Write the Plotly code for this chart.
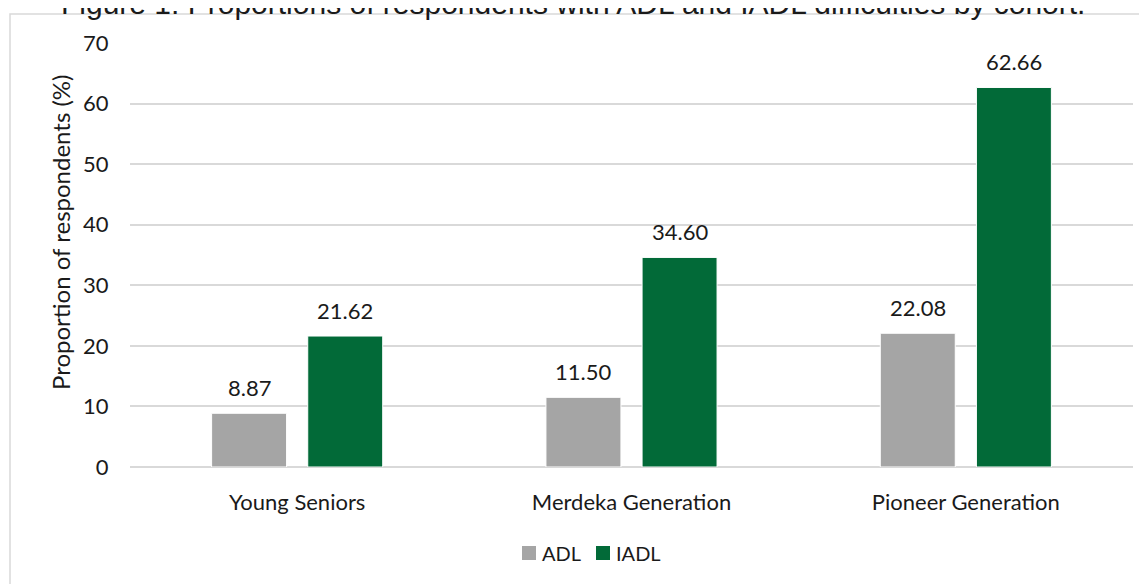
import plotly.graph_objects as go

categories = ["Young Seniors", "Merdeka Generation", "Pioneer Generation"]
adl = [8.87, 11.50, 22.08]
iadl = [21.62, 34.60, 62.66]
series_names = ["ADL", "IADL"]
title_text = "Figure 1: Proportions of respondents with ADL and IADL difficulties by cohort."
y_title = "Proportion of respondents (%)"

# page body has an 8px default margin: screen = figure + OFF
OFF = 8
W, H = 1147, 584
PL, PR, PT, PB = 130, 1133, 43, 467          # plot area on screen
L, T = PL - OFF, PT - OFF
pw, ph = PR - PL, PB - PT
R, B = W - L - pw, H - T - ph

def sx(x):  # screen px -> paper x
    return (x - PL) / pw

def sy(y):  # screen px -> paper y
    return (PB - y) / ph

FONT = "Lato"
GRAY = "#A5A5A5"
GREEN = "#026A38"
TXT = "#1a1a1a"
GRID = "#D9D9D9"
BARGAP, GROUPGAP = 0.425, 0.22

fig = go.Figure()
colors = [GRAY, GREEN]
for name, vals, col in zip(series_names, [adl, iadl], colors):
    fig.add_trace(go.Bar(
        name=name, x=categories, y=vals,
        marker=dict(color=col, line=dict(color="white", width=1)),
        showlegend=False, cliponaxis=False,
    ))

# data labels above bars
cat_w = pw / len(categories)
slot_off = (1 - BARGAP) * cat_w / 4
for i, vals in enumerate([adl, iadl]):
    shift = -slot_off if i == 0 else slot_off
    for c, v in zip(categories, vals):
        fig.add_annotation(
            x=c, y=v, xref="x", yref="y", text=f"{v:.2f}",
            xshift=shift, yshift=10, yanchor="bottom", xanchor="center",
            showarrow=False, font=dict(family=FONT, size=22, color=TXT),
        )

fig.update_layout(
    width=W, height=H,
    margin=dict(l=L, r=R, t=T, b=B, autoexpand=False),
    paper_bgcolor="white", plot_bgcolor="white",
    barmode="group", bargap=BARGAP, bargroupgap=GROUPGAP,
    showlegend=False,
    font=dict(family=FONT, color=TXT),
)
fig.update_xaxes(
    showgrid=False, showline=False, zeroline=False,
    ticks="outside", ticklen=16, tickcolor="rgba(0,0,0,0)",
    tickfont=dict(family=FONT, size=22, color=TXT),
)
fig.update_yaxes(
    range=[0, 70], dtick=10, showgrid=True, gridcolor=GRID, gridwidth=1.5,
    zeroline=True, zerolinecolor=GRID, zerolinewidth=1.5,
    showline=False,
    ticks="outside", ticklen=16, tickcolor="rgba(0,0,0,0)",
    tickfont=dict(family=FONT, size=22, color=TXT),
)
fig.add_annotation(
    text=y_title, textangle=-90, xref="paper", yref="paper",
    x=sx(60), y=sy(232), xanchor="center", yanchor="middle",
    showarrow=False, font=dict(family=FONT, size=24, color=TXT),
)
fig.add_annotation(
    text=title_text, xref="paper", yref="paper",
    x=sx(573), y=sy(4), xanchor="center", yanchor="middle",
    showarrow=False, font=dict(family="Liberation Sans", size=30, color=TXT),
)
# outer chart frame
fig.add_shape(
    type="rect", xref="paper", yref="paper",
    x0=sx(10), x1=sx(W + 40), y0=sy(H + 40), y1=sy(14),
    line=dict(color=GRID, width=1.5), fillcolor="rgba(0,0,0,0)", layer="below",
)
# legend: swatches + labels
leg_items = [(series_names[0], GRAY, 522), (series_names[1], GREEN, 596)]
for name, col, x0 in leg_items:
    fig.add_shape(
        type="rect", xref="paper", yref="paper",
        x0=sx(x0), x1=sx(x0 + 14), y0=sy(560), y1=sy(546),
        line=dict(width=0), fillcolor=col,
    )
    fig.add_annotation(
        text=name, xref="paper", yref="paper",
        x=sx(x0 + 18), y=sy(553), xanchor="left", yanchor="middle",
        showarrow=False, font=dict(family=FONT, size=20, color=TXT),
    )
fig.write_html("out.html")
